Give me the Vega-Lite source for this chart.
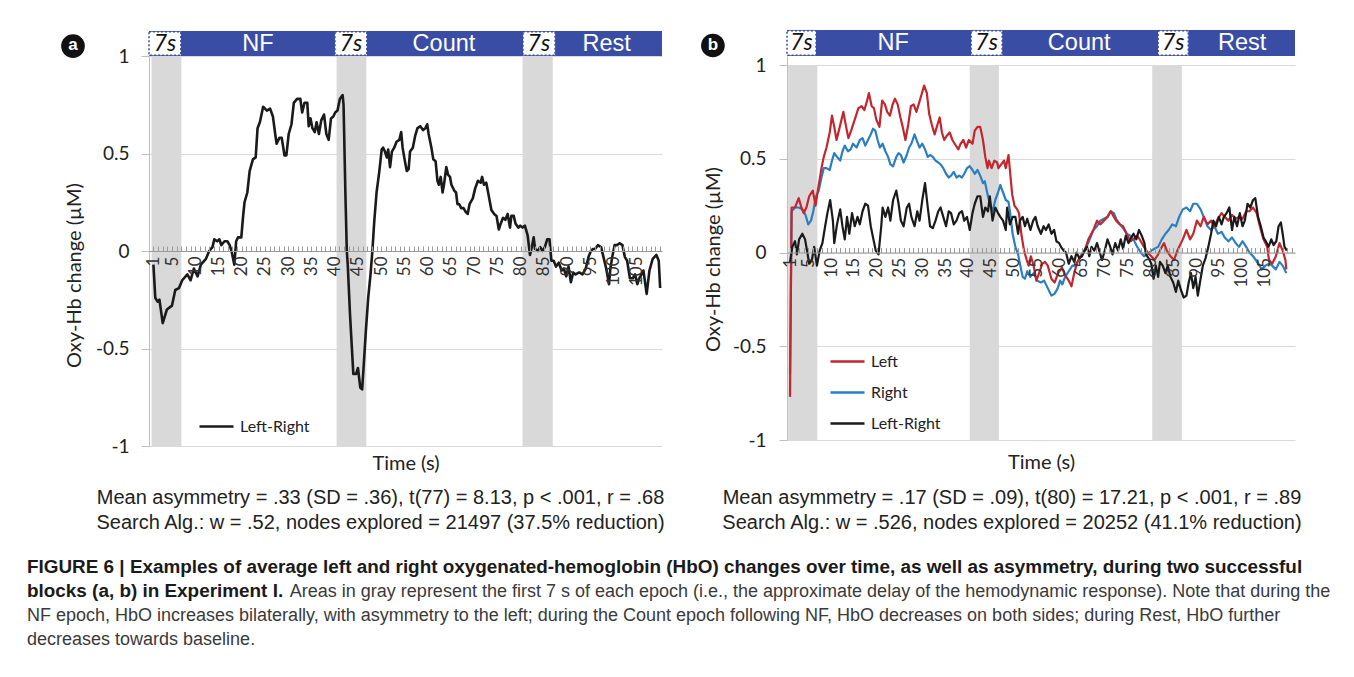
{
"$schema": "https://vega.github.io/schema/vega-lite/v6.json",
"padding": {"left": 27, "top": 29, "right": 30, "bottom": 20},
"bounds": "flush",
"spacing": 125,
"resolve": {"scale": {"x": "independent", "y": "independent", "color": "independent"}, "axis": {"x": "independent", "y": "independent"}, "legend": {"color": "independent"}},
"config": {"view": {"stroke": null}, "font": "Liberation Sans"},
"title": {
 "text": ["FIGURE 6 | Examples of average left and right oxygenated-hemoglobin (HbO) changes over time, as well as asymmetry, during two successful", "blocks (a, b) in Experiment I."],
 "subtitle": ["\u200b\u2003\u2003\u2003\u2003\u2003\u2003\u2003\u2003\u2003\u2003\u2003\u2003\u2003\u2003\u2009\u2009\u2009Areas in gray represent the first 7 s of each epoch (i.e., the approximate delay of the hemodynamic response). Note that during the", "NF epoch, HbO increases bilaterally, with asymmetry to the left; during the Count epoch following NF, HbO decreases on both sides; during Rest, HbO further", "decreases towards baseline."],
 "orient": "bottom", "anchor": "start", "frame": "group", "offset": 25, "dx": -122,
 "font": "Liberation Sans", "fontSize": 18.9, "fontWeight": "bold", "color": "#1a1a1a", "lineHeight": 24,
 "subtitleFont": "Liberation Sans", "subtitleFontSize": 18, "subtitleColor": "#3a3a3a", "subtitleLineHeight": 24, "subtitlePadding": -18
},
"datasets": {
 "bands": [{"s":0.6,"e":7.0},{"s":40.4,"e":46.8},{"s":80.4,"e":86.9}],
 "hdrA": [
  {"lab":"7s","s":0.05,"e":6.9,"m":3.5,"d":true},
  {"lab":"NF","s":6.9,"e":40.05,"m":23.5,"d":false},
  {"lab":"7s","s":40.05,"e":46.9,"m":43.5,"d":true},
  {"lab":"Count","s":46.9,"e":80.5,"m":63.5,"d":false},
  {"lab":"7s","s":80.5,"e":87.4,"m":83.9,"d":true},
  {"lab":"Rest","s":87.4,"e":110.4,"m":98.5,"d":false}
 ],
 "hdrB": [
  {"lab":"7s","s":0.34,"e":6.7,"m":3.5,"d":true},
  {"lab":"NF","s":6.7,"e":40.7,"m":23.6,"d":false},
  {"lab":"7s","s":40.7,"e":47.5,"m":44.1,"d":true},
  {"lab":"Count","s":47.5,"e":81.7,"m":64.4,"d":false},
  {"lab":"7s","s":81.7,"e":88.3,"m":85.0,"d":true},
  {"lab":"Rest","s":88.3,"e":111.7,"m":100.1,"d":false}
 ],
 "a": [
{"t":1,"v":-0.07},{"t":1.4,"v":-0.24},{"t":1.9,"v":-0.26},{"t":2.3,"v":-0.25},{"t":3.0,"v":-0.37},{"t":3.9,"v":-0.30},{"t":5.0,"v":-0.28},{"t":5.7,"v":-0.20},{"t":6.5,"v":-0.19},{"t":7.2,"v":-0.15},{"t":8.3,"v":-0.12},{"t":9.0,"v":-0.15},{"t":9.7,"v":-0.09},{"t":10.5,"v":-0.13},{"t":11.2,"v":-0.07},{"t":12.3,"v":-0.04},{"t":13.0,"v":0.0},{"t":13.7,"v":0.02},{"t":14.1,"v":0.06},{"t":14.7,"v":0.05},{"t":15.2,"v":0.06},{"t":15.6,"v":0.03},{"t":16.3,"v":0.05},{"t":16.9,"v":0.05},{"t":17.4,"v":0.03},{"t":17.8,"v":0.0},{"t":18.4,"v":-0.07},{"t":18.8,"v":0.05},{"t":19.2,"v":0.07},{"t":19.9,"v":0.07},{"t":20.3,"v":0.18},{"t":20.6,"v":0.25},{"t":21.2,"v":0.30},{"t":21.7,"v":0.41},{"t":22.4,"v":0.47},{"t":23.0,"v":0.48},{"t":23.4,"v":0.63},{"t":23.9,"v":0.66},{"t":24.6,"v":0.74},{"t":25.4,"v":0.72},{"t":26.1,"v":0.73},{"t":26.7,"v":0.69},{"t":27.2,"v":0.60},{"t":27.5,"v":0.55},{"t":28.1,"v":0.58},{"t":28.6,"v":0.58},{"t":29.2,"v":0.49},{"t":29.6,"v":0.49},{"t":30.1,"v":0.60},{"t":30.7,"v":0.65},{"t":31.2,"v":0.76},{"t":31.9,"v":0.78},{"t":32.6,"v":0.78},{"t":33.0,"v":0.71},{"t":33.5,"v":0.76},{"t":34.1,"v":0.76},{"t":34.4,"v":0.64},{"t":34.8,"v":0.68},{"t":35.2,"v":0.63},{"t":35.7,"v":0.61},{"t":36.1,"v":0.66},{"t":36.6,"v":0.60},{"t":37.1,"v":0.67},{"t":37.7,"v":0.70},{"t":38.2,"v":0.60},{"t":38.7,"v":0.57},{"t":39.2,"v":0.68},{"t":39.7,"v":0.69},{"t":40.1,"v":0.71},{"t":40.6,"v":0.72},{"t":41.1,"v":0.78},{"t":41.7,"v":0.80},{"t":41.9,"v":0.75},{"t":42.3,"v":0.29},{"t":42.6,"v":0.0},{"t":42.8,"v":-0.07},{"t":43.3,"v":-0.33},{"t":44.0,"v":-0.63},{"t":44.6,"v":-0.63},{"t":45.0,"v":-0.60},{"t":45.5,"v":-0.70},{"t":45.9,"v":-0.71},{"t":46.2,"v":-0.60},{"t":46.7,"v":-0.41},{"t":47.2,"v":-0.24},{"t":47.7,"v":-0.12},{"t":48.1,"v":0.0},{"t":48.5,"v":0.15},{"t":49.0,"v":0.30},{"t":49.6,"v":0.41},{"t":50.1,"v":0.52},{"t":50.4,"v":0.53},{"t":50.8,"v":0.51},{"t":51.2,"v":0.48},{"t":51.5,"v":0.52},{"t":51.9,"v":0.43},{"t":52.3,"v":0.51},{"t":52.8,"v":0.53},{"t":53.3,"v":0.56},{"t":53.9,"v":0.57},{"t":54.3,"v":0.61},{"t":54.6,"v":0.53},{"t":55.1,"v":0.46},{"t":55.5,"v":0.41},{"t":55.9,"v":0.42},{"t":56.2,"v":0.51},{"t":56.8,"v":0.53},{"t":57.3,"v":0.59},{"t":57.8,"v":0.63},{"t":58.4,"v":0.64},{"t":59.0,"v":0.62},{"t":59.5,"v":0.63},{"t":59.9,"v":0.65},{"t":60.2,"v":0.60},{"t":60.8,"v":0.53},{"t":61.2,"v":0.47},{"t":61.7,"v":0.46},{"t":62.1,"v":0.36},{"t":62.4,"v":0.34},{"t":62.8,"v":0.38},{"t":63.2,"v":0.30},{"t":63.5,"v":0.34},{"t":64.0,"v":0.43},{"t":64.4,"v":0.39},{"t":64.8,"v":0.38},{"t":65.1,"v":0.34},{"t":65.7,"v":0.31},{"t":66.1,"v":0.30},{"t":66.4,"v":0.24},{"t":66.8,"v":0.24},{"t":67.2,"v":0.22},{"t":67.7,"v":0.22},{"t":68.2,"v":0.20},{"t":68.6,"v":0.19},{"t":69.0,"v":0.24},{"t":69.7,"v":0.27},{"t":70.2,"v":0.32},{"t":70.8,"v":0.36},{"t":71.4,"v":0.35},{"t":71.7,"v":0.38},{"t":72.1,"v":0.34},{"t":72.6,"v":0.35},{"t":73.0,"v":0.30},{"t":73.7,"v":0.21},{"t":74.3,"v":0.19},{"t":74.8,"v":0.18},{"t":75.3,"v":0.11},{"t":75.7,"v":0.14},{"t":76.2,"v":0.17},{"t":76.7,"v":0.16},{"t":77.2,"v":0.19},{"t":77.7,"v":0.12},{"t":78.0,"v":0.18},{"t":78.5,"v":0.18},{"t":78.9,"v":0.14},{"t":79.5,"v":0.12},{"t":79.9,"v":0.13},{"t":80.4,"v":0.12},{"t":80.9,"v":0.13},{"t":81.5,"v":0.08},{"t":82.0,"v":-0.02},{"t":82.4,"v":0.02},{"t":82.8,"v":0.07},{"t":83.1,"v":0.01},{"t":83.7,"v":0.0},{"t":84.2,"v":0.02},{"t":84.7,"v":0.0},{"t":85.2,"v":0.02},{"t":85.7,"v":0.06},{"t":86.2,"v":0.06},{"t":86.6,"v":-0.05},{"t":87.1,"v":-0.05},{"t":87.6,"v":-0.08},{"t":88.2,"v":-0.06},{"t":88.8,"v":-0.10},{"t":89.3,"v":-0.09},{"t":89.8,"v":-0.13},{"t":90.3,"v":-0.08},{"t":90.8,"v":-0.16},{"t":91.3,"v":-0.11},{"t":91.8,"v":-0.12},{"t":92.6,"v":-0.11},{"t":93.3,"v":-0.12},{"t":94.0,"v":-0.09},{"t":94.6,"v":-0.03},{"t":95.1,"v":0.0},{"t":95.5,"v":0.01},{"t":96.0,"v":0.01},{"t":96.6,"v":0.03},{"t":97.3,"v":0.02},{"t":97.8,"v":-0.03},{"t":98.4,"v":-0.09},{"t":99.0,"v":-0.17},{"t":99.3,"v":-0.09},{"t":99.7,"v":-0.03},{"t":100.2,"v":0.03},{"t":100.7,"v":0.03},{"t":101.3,"v":0.04},{"t":101.9,"v":0.03},{"t":102.4,"v":-0.03},{"t":102.9,"v":-0.05},{"t":103.5,"v":-0.14},{"t":104.1,"v":-0.14},{"t":104.6,"v":-0.12},{"t":105.1,"v":-0.17},{"t":105.5,"v":-0.14},{"t":106.0,"v":-0.12},{"t":106.4,"v":-0.10},{"t":107.1,"v":-0.22},{"t":107.7,"v":-0.10},{"t":108.4,"v":-0.04},{"t":109.2,"v":-0.02},{"t":109.7,"v":-0.05},{"t":110.0,"v":-0.19}
 ],
 "b": [
{"s":"Right","t":1.0,"v":-0.65},{"s":"Right","t":1.35,"v":0.22},{"s":"Right","t":2.1,"v":0.24},{"s":"Right","t":2.9,"v":0.24},{"s":"Right","t":3.7,"v":0.23},{"s":"Right","t":4.4,"v":0.20},{"s":"Right","t":5.0,"v":0.15},{"s":"Right","t":5.6,"v":0.17},{"s":"Right","t":6.1,"v":0.22},{"s":"Right","t":6.7,"v":0.30},{"s":"Right","t":7.3,"v":0.33},{"s":"Right","t":7.9,"v":0.40},{"s":"Right","t":8.4,"v":0.45},{"s":"Right","t":9.0,"v":0.45},{"s":"Right","t":9.7,"v":0.44},{"s":"Right","t":10.2,"v":0.49},{"s":"Right","t":10.7,"v":0.53},{"s":"Right","t":11.3,"v":0.51},{"s":"Right","t":12.0,"v":0.49},{"s":"Right","t":12.5,"v":0.54},{"s":"Right","t":13.0,"v":0.57},{"s":"Right","t":13.7,"v":0.54},{"s":"Right","t":14.3,"v":0.55},{"s":"Right","t":14.8,"v":0.58},{"s":"Right","t":15.6,"v":0.56},{"s":"Right","t":16.3,"v":0.60},{"s":"Right","t":16.9,"v":0.61},{"s":"Right","t":17.5,"v":0.57},{"s":"Right","t":18.1,"v":0.60},{"s":"Right","t":18.7,"v":0.63},{"s":"Right","t":19.2,"v":0.66},{"s":"Right","t":19.7,"v":0.65},{"s":"Right","t":20.2,"v":0.60},{"s":"Right","t":20.7,"v":0.56},{"s":"Right","t":21.3,"v":0.58},{"s":"Right","t":21.9,"v":0.54},{"s":"Right","t":22.5,"v":0.51},{"s":"Right","t":23.0,"v":0.47},{"s":"Right","t":23.6,"v":0.46},{"s":"Right","t":24.3,"v":0.51},{"s":"Right","t":24.8,"v":0.53},{"s":"Right","t":25.3,"v":0.52},{"s":"Right","t":25.9,"v":0.48},{"s":"Right","t":26.6,"v":0.52},{"s":"Right","t":27.1,"v":0.56},{"s":"Right","t":27.6,"v":0.58},{"s":"Right","t":28.3,"v":0.63},{"s":"Right","t":28.9,"v":0.59},{"s":"Right","t":29.4,"v":0.56},{"s":"Right","t":30.0,"v":0.58},{"s":"Right","t":30.6,"v":0.55},{"s":"Right","t":31.2,"v":0.51},{"s":"Right","t":31.7,"v":0.52},{"s":"Right","t":32.3,"v":0.51},{"s":"Right","t":32.9,"v":0.49},{"s":"Right","t":33.5,"v":0.48},{"s":"Right","t":34.0,"v":0.47},{"s":"Right","t":34.6,"v":0.45},{"s":"Right","t":35.2,"v":0.42},{"s":"Right","t":35.8,"v":0.40},{"s":"Right","t":36.3,"v":0.41},{"s":"Right","t":36.9,"v":0.43},{"s":"Right","t":37.5,"v":0.40},{"s":"Right","t":38.1,"v":0.41},{"s":"Right","t":38.7,"v":0.40},{"s":"Right","t":39.2,"v":0.42},{"s":"Right","t":39.8,"v":0.45},{"s":"Right","t":40.4,"v":0.46},{"s":"Right","t":41.0,"v":0.44},{"s":"Right","t":41.5,"v":0.42},{"s":"Right","t":42.1,"v":0.44},{"s":"Right","t":42.7,"v":0.41},{"s":"Right","t":43.3,"v":0.37},{"s":"Right","t":43.7,"v":0.38},{"s":"Right","t":44.3,"v":0.31},{"s":"Right","t":44.8,"v":0.26},{"s":"Right","t":45.4,"v":0.22},{"s":"Right","t":46.0,"v":0.28},{"s":"Right","t":46.6,"v":0.32},{"s":"Right","t":47.1,"v":0.36},{"s":"Right","t":47.7,"v":0.32},{"s":"Right","t":48.3,"v":0.28},{"s":"Right","t":48.9,"v":0.27},{"s":"Right","t":49.2,"v":0.22},{"s":"Right","t":49.8,"v":0.10},{"s":"Right","t":50.4,"v":0.03},{"s":"Right","t":51.0,"v":-0.01},{"s":"Right","t":51.4,"v":-0.06},{"s":"Right","t":52.0,"v":-0.13},{"s":"Right","t":52.5,"v":-0.14},{"s":"Right","t":53.0,"v":-0.10},{"s":"Right","t":53.7,"v":-0.13},{"s":"Right","t":54.4,"v":-0.11},{"s":"Right","t":55.2,"v":-0.15},{"s":"Right","t":56.0,"v":-0.16},{"s":"Right","t":56.7,"v":-0.15},{"s":"Right","t":57.5,"v":-0.19},{"s":"Right","t":58.3,"v":-0.23},{"s":"Right","t":59.0,"v":-0.22},{"s":"Right","t":59.7,"v":-0.19},{"s":"Right","t":60.2,"v":-0.15},{"s":"Right","t":60.7,"v":-0.17},{"s":"Right","t":61.3,"v":-0.13},{"s":"Right","t":62.1,"v":-0.10},{"s":"Right","t":62.9,"v":-0.07},{"s":"Right","t":63.7,"v":-0.07},{"s":"Right","t":64.4,"v":-0.03},{"s":"Right","t":65.2,"v":0.0},{"s":"Right","t":66.0,"v":0.03},{"s":"Right","t":66.7,"v":0.07},{"s":"Right","t":67.5,"v":0.12},{"s":"Right","t":68.3,"v":0.14},{"s":"Right","t":69.0,"v":0.17},{"s":"Right","t":69.8,"v":0.18},{"s":"Right","t":70.6,"v":0.19},{"s":"Right","t":71.3,"v":0.22},{"s":"Right","t":72.0,"v":0.21},{"s":"Right","t":72.5,"v":0.18},{"s":"Right","t":73.3,"v":0.15},{"s":"Right","t":74.0,"v":0.13},{"s":"Right","t":74.8,"v":0.10},{"s":"Right","t":75.6,"v":0.09},{"s":"Right","t":76.3,"v":0.07},{"s":"Right","t":77.1,"v":0.03},{"s":"Right","t":77.9,"v":0.0},{"s":"Right","t":78.6,"v":-0.02},{"s":"Right","t":79.4,"v":-0.01},{"s":"Right","t":80.2,"v":0.01},{"s":"Right","t":80.9,"v":0.02},{"s":"Right","t":81.7,"v":0.03},{"s":"Right","t":82.5,"v":0.07},{"s":"Right","t":83.3,"v":0.10},{"s":"Right","t":84.0,"v":0.12},{"s":"Right","t":84.8,"v":0.15},{"s":"Right","t":85.6,"v":0.14},{"s":"Right","t":86.3,"v":0.19},{"s":"Right","t":87.1,"v":0.23},{"s":"Right","t":87.9,"v":0.24},{"s":"Right","t":88.7,"v":0.22},{"s":"Right","t":89.4,"v":0.26},{"s":"Right","t":90.2,"v":0.26},{"s":"Right","t":91.0,"v":0.23},{"s":"Right","t":91.7,"v":0.19},{"s":"Right","t":92.5,"v":0.14},{"s":"Right","t":93.3,"v":0.12},{"s":"Right","t":94.0,"v":0.14},{"s":"Right","t":94.8,"v":0.10},{"s":"Right","t":95.6,"v":0.11},{"s":"Right","t":96.3,"v":0.08},{"s":"Right","t":97.1,"v":0.06},{"s":"Right","t":97.9,"v":0.08},{"s":"Right","t":98.7,"v":0.05},{"s":"Right","t":99.4,"v":0.03},{"s":"Right","t":100.2,"v":0.06},{"s":"Right","t":101.0,"v":0.03},{"s":"Right","t":101.7,"v":0.0},{"s":"Right","t":102.5,"v":-0.02},{"s":"Right","t":103.7,"v":-0.06},{"s":"Right","t":104.4,"v":-0.09},{"s":"Right","t":105.2,"v":-0.07},{"s":"Right","t":106.0,"v":-0.06},{"s":"Right","t":106.7,"v":-0.07},{"s":"Right","t":107.5,"v":-0.09},{"s":"Right","t":108.3,"v":-0.05},{"s":"Right","t":109.0,"v":-0.07},{"s":"Right","t":109.8,"v":-0.11},
{"s":"Left","t":1.0,"v":-0.77},{"s":"Left","t":1.35,"v":0.24},{"s":"Left","t":2.1,"v":0.24},{"s":"Left","t":2.9,"v":0.29},{"s":"Left","t":3.5,"v":0.24},{"s":"Left","t":4.0,"v":0.21},{"s":"Left","t":4.6,"v":0.24},{"s":"Left","t":5.2,"v":0.30},{"s":"Left","t":6.0,"v":0.33},{"s":"Left","t":6.6,"v":0.25},{"s":"Left","t":7.1,"v":0.33},{"s":"Left","t":7.9,"v":0.45},{"s":"Left","t":8.4,"v":0.51},{"s":"Left","t":9.0,"v":0.56},{"s":"Left","t":9.7,"v":0.64},{"s":"Left","t":10.2,"v":0.73},{"s":"Left","t":10.7,"v":0.67},{"s":"Left","t":11.2,"v":0.60},{"s":"Left","t":11.7,"v":0.65},{"s":"Left","t":12.3,"v":0.71},{"s":"Left","t":12.7,"v":0.75},{"s":"Left","t":13.3,"v":0.67},{"s":"Left","t":13.8,"v":0.61},{"s":"Left","t":14.4,"v":0.65},{"s":"Left","t":15.2,"v":0.71},{"s":"Left","t":16.0,"v":0.77},{"s":"Left","t":16.7,"v":0.78},{"s":"Left","t":17.3,"v":0.76},{"s":"Left","t":17.9,"v":0.81},{"s":"Left","t":18.3,"v":0.85},{"s":"Left","t":18.9,"v":0.78},{"s":"Left","t":19.4,"v":0.77},{"s":"Left","t":19.9,"v":0.71},{"s":"Left","t":20.6,"v":0.67},{"s":"Left","t":21.2,"v":0.81},{"s":"Left","t":21.8,"v":0.79},{"s":"Left","t":22.3,"v":0.75},{"s":"Left","t":22.9,"v":0.73},{"s":"Left","t":23.5,"v":0.79},{"s":"Left","t":24.0,"v":0.82},{"s":"Left","t":24.6,"v":0.79},{"s":"Left","t":25.2,"v":0.72},{"s":"Left","t":25.7,"v":0.67},{"s":"Left","t":26.3,"v":0.60},{"s":"Left","t":26.9,"v":0.68},{"s":"Left","t":27.5,"v":0.78},{"s":"Left","t":28.1,"v":0.79},{"s":"Left","t":28.7,"v":0.75},{"s":"Left","t":29.2,"v":0.79},{"s":"Left","t":29.8,"v":0.84},{"s":"Left","t":30.4,"v":0.89},{"s":"Left","t":31.0,"v":0.85},{"s":"Left","t":31.5,"v":0.74},{"s":"Left","t":32.1,"v":0.68},{"s":"Left","t":32.7,"v":0.63},{"s":"Left","t":33.3,"v":0.68},{"s":"Left","t":33.8,"v":0.72},{"s":"Left","t":34.3,"v":0.64},{"s":"Left","t":34.8,"v":0.60},{"s":"Left","t":35.3,"v":0.62},{"s":"Left","t":36.0,"v":0.64},{"s":"Left","t":36.6,"v":0.60},{"s":"Left","t":37.1,"v":0.58},{"s":"Left","t":37.9,"v":0.55},{"s":"Left","t":38.4,"v":0.58},{"s":"Left","t":39.0,"v":0.60},{"s":"Left","t":39.6,"v":0.56},{"s":"Left","t":40.2,"v":0.60},{"s":"Left","t":41.0,"v":0.58},{"s":"Left","t":41.5,"v":0.65},{"s":"Left","t":42.1,"v":0.67},{"s":"Left","t":42.7,"v":0.67},{"s":"Left","t":43.3,"v":0.60},{"s":"Left","t":43.8,"v":0.51},{"s":"Left","t":44.3,"v":0.45},{"s":"Left","t":44.6,"v":0.49},{"s":"Left","t":45.2,"v":0.45},{"s":"Left","t":45.8,"v":0.49},{"s":"Left","t":46.4,"v":0.48},{"s":"Left","t":46.7,"v":0.45},{"s":"Left","t":47.3,"v":0.47},{"s":"Left","t":47.9,"v":0.49},{"s":"Left","t":48.3,"v":0.45},{"s":"Left","t":48.9,"v":0.52},{"s":"Left","t":49.2,"v":0.44},{"s":"Left","t":49.7,"v":0.31},{"s":"Left","t":50.2,"v":0.25},{"s":"Left","t":50.8,"v":0.23},{"s":"Left","t":51.2,"v":0.21},{"s":"Left","t":51.7,"v":0.10},{"s":"Left","t":52.3,"v":0.01},{"s":"Left","t":52.9,"v":-0.04},{"s":"Left","t":53.3,"v":-0.07},{"s":"Left","t":53.8,"v":-0.02},{"s":"Left","t":54.4,"v":-0.07},{"s":"Left","t":55.0,"v":-0.15},{"s":"Left","t":55.6,"v":-0.11},{"s":"Left","t":56.3,"v":-0.06},{"s":"Left","t":56.9,"v":-0.05},{"s":"Left","t":57.5,"v":-0.07},{"s":"Left","t":58.3,"v":-0.14},{"s":"Left","t":59.0,"v":-0.16},{"s":"Left","t":59.8,"v":-0.11},{"s":"Left","t":60.6,"v":-0.08},{"s":"Left","t":61.3,"v":-0.12},{"s":"Left","t":62.1,"v":-0.15},{"s":"Left","t":62.7,"v":-0.18},{"s":"Left","t":63.3,"v":-0.11},{"s":"Left","t":64.0,"v":-0.05},{"s":"Left","t":64.8,"v":-0.02},{"s":"Left","t":65.6,"v":0.01},{"s":"Left","t":66.4,"v":0.07},{"s":"Left","t":67.5,"v":0.12},{"s":"Left","t":68.3,"v":0.17},{"s":"Left","t":69.0,"v":0.15},{"s":"Left","t":69.8,"v":0.17},{"s":"Left","t":70.6,"v":0.19},{"s":"Left","t":71.3,"v":0.22},{"s":"Left","t":72.0,"v":0.19},{"s":"Left","t":72.5,"v":0.17},{"s":"Left","t":73.3,"v":0.15},{"s":"Left","t":74.0,"v":0.14},{"s":"Left","t":74.8,"v":0.10},{"s":"Left","t":75.6,"v":0.06},{"s":"Left","t":76.3,"v":0.07},{"s":"Left","t":77.1,"v":0.09},{"s":"Left","t":77.9,"v":0.06},{"s":"Left","t":78.6,"v":0.03},{"s":"Left","t":79.4,"v":0.0},{"s":"Left","t":80.2,"v":-0.02},{"s":"Left","t":80.9,"v":-0.04},{"s":"Left","t":81.7,"v":-0.01},{"s":"Left","t":82.5,"v":0.03},{"s":"Left","t":83.0,"v":0.05},{"s":"Left","t":83.6,"v":0.01},{"s":"Left","t":84.4,"v":-0.02},{"s":"Left","t":85.2,"v":-0.04},{"s":"Left","t":85.9,"v":0.01},{"s":"Left","t":86.3,"v":0.03},{"s":"Left","t":87.1,"v":0.07},{"s":"Left","t":87.9,"v":0.12},{"s":"Left","t":88.7,"v":0.07},{"s":"Left","t":89.4,"v":0.10},{"s":"Left","t":90.2,"v":0.17},{"s":"Left","t":91.0,"v":0.14},{"s":"Left","t":91.7,"v":0.19},{"s":"Left","t":92.5,"v":0.15},{"s":"Left","t":93.3,"v":0.17},{"s":"Left","t":94.0,"v":0.14},{"s":"Left","t":94.8,"v":0.18},{"s":"Left","t":95.6,"v":0.21},{"s":"Left","t":96.3,"v":0.19},{"s":"Left","t":97.1,"v":0.17},{"s":"Left","t":97.9,"v":0.20},{"s":"Left","t":98.7,"v":0.18},{"s":"Left","t":99.4,"v":0.19},{"s":"Left","t":100.2,"v":0.18},{"s":"Left","t":101.0,"v":0.22},{"s":"Left","t":101.7,"v":0.22},{"s":"Left","t":102.5,"v":0.24},{"s":"Left","t":103.3,"v":0.21},{"s":"Left","t":104.0,"v":0.14},{"s":"Left","t":104.8,"v":0.07},{"s":"Left","t":105.6,"v":0.03},{"s":"Left","t":106.0,"v":-0.04},{"s":"Left","t":106.7,"v":-0.06},{"s":"Left","t":107.5,"v":-0.02},{"s":"Left","t":108.3,"v":0.05},{"s":"Left","t":109.0,"v":0.01},{"s":"Left","t":109.6,"v":-0.04},{"s":"Left","t":109.8,"v":-0.09},
{"s":"Left-Right","t":1.0,"v":-0.05},{"s":"Left-Right","t":1.5,"v":0.03},{"s":"Left-Right","t":2.1,"v":0.06},{"s":"Left-Right","t":2.5,"v":-0.01},{"s":"Left-Right","t":3.0,"v":0.07},{"s":"Left-Right","t":3.7,"v":0.10},{"s":"Left-Right","t":4.3,"v":0.07},{"s":"Left-Right","t":4.8,"v":0.0},{"s":"Left-Right","t":5.2,"v":-0.06},{"s":"Left-Right","t":5.8,"v":-0.04},{"s":"Left-Right","t":6.3,"v":0.03},{"s":"Left-Right","t":6.9,"v":-0.07},{"s":"Left-Right","t":7.5,"v":0.01},{"s":"Left-Right","t":8.1,"v":0.05},{"s":"Left-Right","t":8.7,"v":0.14},{"s":"Left-Right","t":9.2,"v":0.21},{"s":"Left-Right","t":9.8,"v":0.28},{"s":"Left-Right","t":10.4,"v":0.17},{"s":"Left-Right","t":10.7,"v":0.05},{"s":"Left-Right","t":11.3,"v":0.15},{"s":"Left-Right","t":12.0,"v":0.23},{"s":"Left-Right","t":12.5,"v":0.14},{"s":"Left-Right","t":13.0,"v":0.07},{"s":"Left-Right","t":13.5,"v":0.19},{"s":"Left-Right","t":14.0,"v":0.10},{"s":"Left-Right","t":14.6,"v":0.21},{"s":"Left-Right","t":15.2,"v":0.14},{"s":"Left-Right","t":15.8,"v":0.19},{"s":"Left-Right","t":16.3,"v":0.15},{"s":"Left-Right","t":16.9,"v":0.22},{"s":"Left-Right","t":17.5,"v":0.26},{"s":"Left-Right","t":18.1,"v":0.25},{"s":"Left-Right","t":18.7,"v":0.14},{"s":"Left-Right","t":19.2,"v":0.08},{"s":"Left-Right","t":19.8,"v":0.01},{"s":"Left-Right","t":20.4,"v":-0.01},{"s":"Left-Right","t":21.0,"v":0.14},{"s":"Left-Right","t":21.3,"v":0.24},{"s":"Left-Right","t":21.9,"v":0.19},{"s":"Left-Right","t":22.5,"v":0.24},{"s":"Left-Right","t":23.0,"v":0.17},{"s":"Left-Right","t":23.6,"v":0.28},{"s":"Left-Right","t":24.3,"v":0.33},{"s":"Left-Right","t":24.8,"v":0.26},{"s":"Left-Right","t":25.3,"v":0.17},{"s":"Left-Right","t":25.9,"v":0.14},{"s":"Left-Right","t":26.6,"v":0.24},{"s":"Left-Right","t":27.1,"v":0.26},{"s":"Left-Right","t":27.6,"v":0.19},{"s":"Left-Right","t":28.3,"v":0.14},{"s":"Left-Right","t":28.9,"v":0.22},{"s":"Left-Right","t":29.4,"v":0.17},{"s":"Left-Right","t":30.0,"v":0.28},{"s":"Left-Right","t":30.6,"v":0.37},{"s":"Left-Right","t":31.2,"v":0.24},{"s":"Left-Right","t":31.7,"v":0.14},{"s":"Left-Right","t":32.3,"v":0.13},{"s":"Left-Right","t":32.9,"v":0.17},{"s":"Left-Right","t":33.5,"v":0.22},{"s":"Left-Right","t":34.0,"v":0.24},{"s":"Left-Right","t":34.6,"v":0.19},{"s":"Left-Right","t":35.2,"v":0.14},{"s":"Left-Right","t":35.8,"v":0.22},{"s":"Left-Right","t":36.3,"v":0.21},{"s":"Left-Right","t":36.9,"v":0.15},{"s":"Left-Right","t":37.5,"v":0.17},{"s":"Left-Right","t":38.1,"v":0.21},{"s":"Left-Right","t":38.7,"v":0.22},{"s":"Left-Right","t":39.2,"v":0.17},{"s":"Left-Right","t":39.8,"v":0.19},{"s":"Left-Right","t":40.4,"v":0.12},{"s":"Left-Right","t":41.0,"v":0.21},{"s":"Left-Right","t":41.5,"v":0.26},{"s":"Left-Right","t":42.1,"v":0.30},{"s":"Left-Right","t":42.7,"v":0.30},{"s":"Left-Right","t":43.3,"v":0.19},{"s":"Left-Right","t":43.8,"v":0.24},{"s":"Left-Right","t":44.4,"v":0.22},{"s":"Left-Right","t":44.8,"v":0.30},{"s":"Left-Right","t":45.4,"v":0.17},{"s":"Left-Right","t":46.0,"v":0.24},{"s":"Left-Right","t":46.6,"v":0.21},{"s":"Left-Right","t":47.1,"v":0.19},{"s":"Left-Right","t":47.7,"v":0.17},{"s":"Left-Right","t":48.3,"v":0.12},{"s":"Left-Right","t":48.6,"v":0.24},{"s":"Left-Right","t":49.2,"v":0.15},{"s":"Left-Right","t":49.8,"v":0.19},{"s":"Left-Right","t":50.4,"v":0.19},{"s":"Left-Right","t":51.0,"v":0.10},{"s":"Left-Right","t":51.4,"v":0.17},{"s":"Left-Right","t":52.0,"v":0.19},{"s":"Left-Right","t":52.5,"v":0.14},{"s":"Left-Right","t":53.0,"v":0.18},{"s":"Left-Right","t":53.7,"v":0.12},{"s":"Left-Right","t":54.3,"v":0.17},{"s":"Left-Right","t":54.8,"v":0.19},{"s":"Left-Right","t":55.3,"v":0.14},{"s":"Left-Right","t":56.0,"v":0.10},{"s":"Left-Right","t":56.6,"v":0.14},{"s":"Left-Right","t":57.1,"v":0.12},{"s":"Left-Right","t":57.7,"v":0.15},{"s":"Left-Right","t":58.3,"v":0.10},{"s":"Left-Right","t":58.9,"v":0.12},{"s":"Left-Right","t":59.4,"v":0.06},{"s":"Left-Right","t":60.0,"v":0.05},{"s":"Left-Right","t":60.4,"v":0.03},{"s":"Left-Right","t":61.0,"v":0.01},{"s":"Left-Right","t":61.5,"v":0.0},{"s":"Left-Right","t":62.1,"v":-0.06},{"s":"Left-Right","t":62.7,"v":-0.02},{"s":"Left-Right","t":63.3,"v":-0.05},{"s":"Left-Right","t":63.8,"v":0.0},{"s":"Left-Right","t":64.4,"v":-0.03},{"s":"Left-Right","t":65.0,"v":-0.02},{"s":"Left-Right","t":65.6,"v":0.01},{"s":"Left-Right","t":66.1,"v":0.03},{"s":"Left-Right","t":66.6,"v":-0.02},{"s":"Left-Right","t":67.1,"v":0.03},{"s":"Left-Right","t":67.7,"v":0.01},{"s":"Left-Right","t":68.3,"v":0.05},{"s":"Left-Right","t":68.9,"v":0.0},{"s":"Left-Right","t":69.4,"v":-0.04},{"s":"Left-Right","t":70.0,"v":0.01},{"s":"Left-Right","t":70.6,"v":0.07},{"s":"Left-Right","t":71.2,"v":0.03},{"s":"Left-Right","t":71.7,"v":-0.01},{"s":"Left-Right","t":72.3,"v":0.05},{"s":"Left-Right","t":72.9,"v":0.01},{"s":"Left-Right","t":73.5,"v":0.07},{"s":"Left-Right","t":74.0,"v":0.02},{"s":"Left-Right","t":74.6,"v":0.09},{"s":"Left-Right","t":75.2,"v":0.05},{"s":"Left-Right","t":75.8,"v":0.08},{"s":"Left-Right","t":76.3,"v":0.10},{"s":"Left-Right","t":76.9,"v":0.07},{"s":"Left-Right","t":77.5,"v":0.12},{"s":"Left-Right","t":78.1,"v":0.09},{"s":"Left-Right","t":78.7,"v":0.05},{"s":"Left-Right","t":79.0,"v":-0.01},{"s":"Left-Right","t":79.6,"v":-0.03},{"s":"Left-Right","t":80.2,"v":-0.06},{"s":"Left-Right","t":80.7,"v":-0.14},{"s":"Left-Right","t":81.2,"v":-0.07},{"s":"Left-Right","t":81.7,"v":-0.13},{"s":"Left-Right","t":82.1,"v":-0.05},{"s":"Left-Right","t":82.7,"v":-0.07},{"s":"Left-Right","t":83.3,"v":-0.11},{"s":"Left-Right","t":83.8,"v":-0.07},{"s":"Left-Right","t":84.4,"v":-0.13},{"s":"Left-Right","t":85.0,"v":-0.16},{"s":"Left-Right","t":85.6,"v":-0.21},{"s":"Left-Right","t":86.1,"v":-0.15},{"s":"Left-Right","t":86.7,"v":-0.20},{"s":"Left-Right","t":87.3,"v":-0.24},{"s":"Left-Right","t":87.9,"v":-0.23},{"s":"Left-Right","t":88.4,"v":-0.16},{"s":"Left-Right","t":88.9,"v":-0.11},{"s":"Left-Right","t":89.4,"v":-0.19},{"s":"Left-Right","t":89.9,"v":-0.13},{"s":"Left-Right","t":90.4,"v":-0.23},{"s":"Left-Right","t":91.0,"v":-0.14},{"s":"Left-Right","t":91.5,"v":-0.07},{"s":"Left-Right","t":92.1,"v":-0.03},{"s":"Left-Right","t":92.7,"v":0.03},{"s":"Left-Right","t":93.3,"v":0.10},{"s":"Left-Right","t":93.8,"v":0.17},{"s":"Left-Right","t":94.4,"v":0.14},{"s":"Left-Right","t":95.0,"v":0.19},{"s":"Left-Right","t":95.6,"v":0.15},{"s":"Left-Right","t":96.1,"v":0.19},{"s":"Left-Right","t":96.7,"v":0.21},{"s":"Left-Right","t":97.3,"v":0.24},{"s":"Left-Right","t":97.9,"v":0.12},{"s":"Left-Right","t":98.4,"v":0.19},{"s":"Left-Right","t":99.0,"v":0.14},{"s":"Left-Right","t":99.6,"v":0.21},{"s":"Left-Right","t":100.2,"v":0.14},{"s":"Left-Right","t":100.7,"v":0.17},{"s":"Left-Right","t":101.3,"v":0.26},{"s":"Left-Right","t":101.9,"v":0.24},{"s":"Left-Right","t":102.5,"v":0.28},{"s":"Left-Right","t":103.0,"v":0.29},{"s":"Left-Right","t":103.6,"v":0.19},{"s":"Left-Right","t":104.2,"v":0.14},{"s":"Left-Right","t":104.8,"v":0.08},{"s":"Left-Right","t":105.3,"v":0.06},{"s":"Left-Right","t":105.9,"v":0.03},{"s":"Left-Right","t":106.5,"v":0.07},{"s":"Left-Right","t":107.0,"v":0.04},{"s":"Left-Right","t":107.6,"v":0.06},{"s":"Left-Right","t":108.1,"v":0.14},{"s":"Left-Right","t":108.6,"v":0.16},{"s":"Left-Right","t":109.0,"v":0.10},{"s":"Left-Right","t":109.4,"v":0.03},{"s":"Left-Right","t":109.9,"v":0.01}
 ]
},
"hconcat": [
 {
  "width": 513, "height": 390,
  "resolve": {"axis": {"x": "independent"}},
  "title": {"text": ["Mean asymmetry = .33 (SD = .36), t(77) = 8.13, p < .001, r = .68", "Search Alg.: w = .52, nodes explored = 21497 (37.5% reduction)"], "orient": "bottom", "anchor": "middle", "frame": "group", "offset": 15, "dx": -25, "font": "Liberation Sans", "fontSize": 20, "fontWeight": "normal", "color": "#222", "lineHeight": 25},
  "layer": [
   {"data": {"name": "bands"}, "mark": {"type": "rect", "color": "#d9d9d9"},
    "encoding": {"x": {"field": "s", "type": "quantitative", "scale": {"domain": [0.05, 110.4], "nice": false, "zero": false},
      "axis": {"orient": "top", "offset": -195, "values": [1,2,3,4,5,6,7,8,9,10,11,12,13,14,15,16,17,18,19,20,21,22,23,24,25,26,27,28,29,30,31,32,33,34,35,36,37,38,39,40,41,42,43,44,45,46,47,48,49,50,51,52,53,54,55,56,57,58,59,60,61,62,63,64,65,66,67,68,69,70,71,72,73,74,75,76,77,78,79,80,81,82,83,84,85,86,87,88,89,90,91,92,93,94,95,96,97,98,99,100,101,102,103,104,105,106,107,108,109,110], "labels": false, "ticks": true, "tickSize": 5, "tickColor": "#9a9a9a", "tickWidth": 1, "domain": false, "grid": false, "title": null, "zindex": 1}},
     "x2": {"field": "e"},
     "y": {"datum": -1, "type": "quantitative", "scale": {"domain": [-1, 1], "nice": false, "zero": false}}, "y2": {"datum": 1}}},
   {"data": {"name": "a"}, "mark": {"type": "line", "strokeWidth": 2.6, "strokeJoin": "round"},
    "encoding": {
     "x": {"field": "t", "type": "quantitative", "scale": {"domain": [0.05, 110.4], "nice": false, "zero": false},
      "axis": {"orient": "bottom", "offset": -195, "values": [1,5,10,15,20,25,30,35,40,45,50,55,60,65,70,75,80,85,90,95,100,105],
       "labelAngle": -90, "labelFont": "Lato", "labelFontSize": 17, "labelColor": "#333", "labelPadding": 5, "labelOverlap": false, "labelFlush": false, "labelBound": false,
       "ticks": false, "domain": true, "domainColor": "#9a9a9a", "domainWidth": 1.2, "grid": false,
       "title": "Time (s)", "titleFont": "Lato", "titleFontSize": 20, "titleFontWeight": "normal", "titleColor": "#222", "titleY": 212, "titleBaseline": "middle", "zindex": 1}},
     "y": {"field": "v", "type": "quantitative", "scale": {"domain": [-1, 1], "nice": false, "zero": false},
      "axis": {"values": [-1, -0.5, 0, 0.5, 1], "labelExpr": "datum.value", "labelFont": "Lato", "labelFontSize": 19, "labelColor": "#222", "labelPadding": 12, "tickSize": 8, "tickColor": "#bfbfbf", "domainColor": "#bfbfbf", "grid": true, "gridColor": "#d9d9d9",
       "title": "Oxy-Hb change (µM)", "titleFont": "Lato", "titleFontSize": 20, "titleFontWeight": "normal", "titleColor": "#222", "titleAngle": -90, "titleX": -75, "titleY": 219, "titleBaseline": "middle", "titleAlign": "center"}},
     "color": {"datum": "Left-Right", "type": "nominal", "scale": {"domain": ["Left-Right"], "range": ["#1a1a1a"]},
      "legend": {"orient": "none", "legendX": 49, "legendY": 352, "title": null, "padding": 0, "symbolType": "stroke", "symbolSize": 1156, "symbolStrokeWidth": 2.5, "labelFont": "Lato", "labelFontSize": 16, "labelColor": "#222", "labelOffset": 5}}
    }},
   {"data": {"name": "hdrA"}, "mark": {"type": "rect", "color": "#3a4da5"},
    "encoding": {"x": {"field": "s", "type": "quantitative", "scale": {"domain": [0.05, 110.4], "nice": false, "zero": false}, "axis": null}, "x2": {"field": "e"},
     "y": {"datum": 1.0, "type": "quantitative", "scale": {"domain": [-1, 1], "nice": false, "zero": false}}, "y2": {"datum": 1.128}}},
   {"data": {"name": "hdrA"}, "transform": [{"filter": "datum.d"}], "mark": {"type": "rect", "fill": "white", "stroke": "#3a4da5", "strokeWidth": 1.5, "strokeDash": [2, 2]},
    "encoding": {"x": {"field": "s", "type": "quantitative", "scale": {"domain": [0.05, 110.4], "nice": false, "zero": false}, "axis": null}, "x2": {"field": "e"},
     "y": {"datum": 1.004, "type": "quantitative", "scale": {"domain": [-1, 1], "nice": false, "zero": false}}, "y2": {"datum": 1.124}}},
   {"data": {"name": "hdrA"}, "transform": [{"filter": "!datum.d"}], "mark": {"type": "text", "color": "white", "font": "Liberation Sans", "fontSize": 23.5, "baseline": "middle", "align": "center"},
    "encoding": {"x": {"field": "m", "type": "quantitative", "scale": {"domain": [0.05, 110.4], "nice": false, "zero": false}, "axis": null},
     "y": {"datum": 1.064, "type": "quantitative", "scale": {"domain": [-1, 1], "nice": false, "zero": false}}, "text": {"field": "lab"}}},
   {"data": {"name": "hdrA"}, "transform": [{"filter": "datum.d"}], "mark": {"type": "text", "color": "#111", "font": "Lato", "fontStyle": "italic", "fontSize": 23, "baseline": "middle", "align": "center"},
    "encoding": {"x": {"field": "m", "type": "quantitative", "scale": {"domain": [0.05, 110.4], "nice": false, "zero": false}, "axis": null},
     "y": {"datum": 1.064, "type": "quantitative", "scale": {"domain": [-1, 1], "nice": false, "zero": false}}, "text": {"field": "lab"}}},
   {"data": {"values": [{"lab": "a"}]}, "mark": {"type": "point", "filled": true, "color": "#111", "size": 560, "opacity": 1},
    "encoding": {"x": {"datum": -16.3, "type": "quantitative", "scale": {"domain": [0.05, 110.4], "nice": false, "zero": false}, "axis": null},
     "y": {"datum": 1.051, "type": "quantitative", "scale": {"domain": [-1, 1], "nice": false, "zero": false}}}},
   {"data": {"values": [{"lab": "a"}]}, "mark": {"type": "text", "color": "white", "font": "Liberation Sans", "fontWeight": "bold", "fontSize": 17, "baseline": "middle", "align": "center", "dy": -1},
    "encoding": {"x": {"datum": -16.3, "type": "quantitative", "scale": {"domain": [0.05, 110.4], "nice": false, "zero": false}, "axis": null},
     "y": {"datum": 1.051, "type": "quantitative", "scale": {"domain": [-1, 1], "nice": false, "zero": false}}, "text": {"field": "lab"}}}
  ]
 },
 {
  "width": 508, "height": 384,
  "resolve": {"axis": {"x": "independent"}},
  "title": {"text": ["Mean asymmetry = .17 (SD = .09), t(80) = 17.21, p < .001, r = .89", "Search Alg.: w = .526, nodes explored = 20252 (41.1% reduction)"], "orient": "bottom", "anchor": "middle", "frame": "group", "offset": 15, "dx": -29, "font": "Liberation Sans", "fontSize": 20, "fontWeight": "normal", "color": "#222", "lineHeight": 25},
  "layer": [
   {"data": {"name": "bands"}, "mark": {"type": "rect", "color": "#d9d9d9"},
    "encoding": {"x": {"field": "s", "type": "quantitative", "scale": {"domain": [0.34, 111.7], "nice": false, "zero": false},
      "axis": {"orient": "top", "offset": -196.5, "values": [1,2,3,4,5,6,7,8,9,10,11,12,13,14,15,16,17,18,19,20,21,22,23,24,25,26,27,28,29,30,31,32,33,34,35,36,37,38,39,40,41,42,43,44,45,46,47,48,49,50,51,52,53,54,55,56,57,58,59,60,61,62,63,64,65,66,67,68,69,70,71,72,73,74,75,76,77,78,79,80,81,82,83,84,85,86,87,88,89,90,91,92,93,94,95,96,97,98,99,100,101,102,103,104,105,106,107,108,109,110,111], "labels": false, "ticks": true, "tickSize": 5, "tickColor": "#9a9a9a", "tickWidth": 1, "domain": false, "grid": false, "title": null, "zindex": 1}},
     "x2": {"field": "e"},
     "y": {"datum": -1, "type": "quantitative", "scale": {"domain": [-1, 1.048], "nice": false, "zero": false}}, "y2": {"datum": 1}}},
   {"data": {"name": "b"}, "mark": {"type": "line", "strokeWidth": 2.2, "strokeJoin": "round"},
    "encoding": {
     "x": {"field": "t", "type": "quantitative", "scale": {"domain": [0.34, 111.7], "nice": false, "zero": false},
      "axis": {"orient": "bottom", "offset": -187.5, "values": [1,5,10,15,20,25,30,35,40,45,50,55,60,65,70,75,80,85,90,95,100,105],
       "labelAngle": -90, "labelFont": "Lato", "labelFontSize": 17, "labelColor": "#333", "labelPadding": 5, "labelOverlap": false, "labelFlush": false, "labelBound": false,
       "ticks": false, "domain": true, "domainColor": "#9a9a9a", "domainWidth": 1.2, "grid": false,
       "title": "Time (s)", "titleFont": "Lato", "titleFontSize": 20, "titleFontWeight": "normal", "titleColor": "#222", "titleY": 210, "titleBaseline": "middle", "zindex": 1}},
     "y": {"field": "v", "type": "quantitative", "scale": {"domain": [-1, 1.048], "nice": false, "zero": false},
      "axis": {"values": [-1, -0.5, 0, 0.5, 1], "labelExpr": "datum.value", "labelFont": "Lato", "labelFontSize": 19, "labelColor": "#222", "labelPadding": 13, "tickSize": 8, "tickColor": "#bfbfbf", "domainColor": "#bfbfbf", "grid": true, "gridColor": "#d9d9d9",
       "title": "Oxy-Hb change (µM)", "titleFont": "Lato", "titleFontSize": 20, "titleFontWeight": "normal", "titleColor": "#222", "titleAngle": -90, "titleX": -74, "titleY": 203, "titleBaseline": "middle", "titleAlign": "center"}},
     "color": {"field": "s", "type": "nominal", "scale": {"domain": ["Left", "Right", "Left-Right"], "range": ["#c4262e", "#2b7ec1", "#1a1a1a"]},
      "legend": {"orient": "none", "legendX": 42, "legendY": 287, "title": null, "padding": 0, "symbolType": "stroke", "symbolSize": 1156, "symbolStrokeWidth": 2.5, "labelFont": "Lato", "labelFontSize": 16, "labelColor": "#222", "labelOffset": 5, "rowPadding": 4}}
    }},
   {"data": {"name": "hdrB"}, "mark": {"type": "rect", "color": "#3a4da5"},
    "encoding": {"x": {"field": "s", "type": "quantitative", "scale": {"domain": [0.34, 111.7], "nice": false, "zero": false}, "axis": null}, "x2": {"field": "e"},
     "y": {"datum": 1.048, "type": "quantitative", "scale": {"domain": [-1, 1.048], "nice": false, "zero": false}}, "y2": {"datum": 1.187}}},
   {"data": {"name": "hdrB"}, "transform": [{"filter": "datum.d"}], "mark": {"type": "rect", "fill": "white", "stroke": "#3a4da5", "strokeWidth": 1.5, "strokeDash": [2, 2]},
    "encoding": {"x": {"field": "s", "type": "quantitative", "scale": {"domain": [0.34, 111.7], "nice": false, "zero": false}, "axis": null}, "x2": {"field": "e"},
     "y": {"datum": 1.052, "type": "quantitative", "scale": {"domain": [-1, 1.048], "nice": false, "zero": false}}, "y2": {"datum": 1.183}}},
   {"data": {"name": "hdrB"}, "transform": [{"filter": "!datum.d"}], "mark": {"type": "text", "color": "white", "font": "Liberation Sans", "fontSize": 23.5, "baseline": "middle", "align": "center"},
    "encoding": {"x": {"field": "m", "type": "quantitative", "scale": {"domain": [0.34, 111.7], "nice": false, "zero": false}, "axis": null},
     "y": {"datum": 1.1175, "type": "quantitative", "scale": {"domain": [-1, 1.048], "nice": false, "zero": false}}, "text": {"field": "lab"}}},
   {"data": {"name": "hdrB"}, "transform": [{"filter": "datum.d"}], "mark": {"type": "text", "color": "#111", "font": "Lato", "fontStyle": "italic", "fontSize": 23, "baseline": "middle", "align": "center"},
    "encoding": {"x": {"field": "m", "type": "quantitative", "scale": {"domain": [0.34, 111.7], "nice": false, "zero": false}, "axis": null},
     "y": {"datum": 1.1175, "type": "quantitative", "scale": {"domain": [-1, 1.048], "nice": false, "zero": false}}, "text": {"field": "lab"}}},
   {"data": {"values": [{"lab": "b"}]}, "mark": {"type": "point", "filled": true, "color": "#111", "size": 560, "opacity": 1},
    "encoding": {"x": {"datum": -15.9, "type": "quantitative", "scale": {"domain": [0.34, 111.7], "nice": false, "zero": false}, "axis": null},
     "y": {"datum": 1.104, "type": "quantitative", "scale": {"domain": [-1, 1.048], "nice": false, "zero": false}}}},
   {"data": {"values": [{"lab": "b"}]}, "mark": {"type": "text", "color": "white", "font": "Liberation Sans", "fontWeight": "bold", "fontSize": 17, "baseline": "middle", "align": "center", "dy": -1},
    "encoding": {"x": {"datum": -15.9, "type": "quantitative", "scale": {"domain": [0.34, 111.7], "nice": false, "zero": false}, "axis": null},
     "y": {"datum": 1.104, "type": "quantitative", "scale": {"domain": [-1, 1.048], "nice": false, "zero": false}}, "text": {"field": "lab"}}}
  ]
 }
]
}
